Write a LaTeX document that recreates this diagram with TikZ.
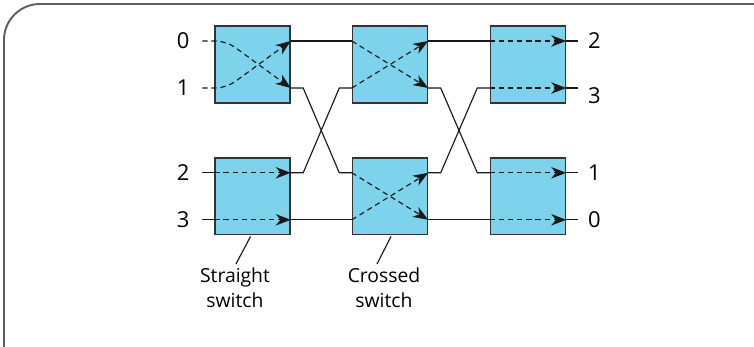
\documentclass[tikz,border=0pt]{standalone}
\usepackage{fontspec}
\setmainfont{Open Sans}
\definecolor{SwitchBlue}{HTML}{7DD3EB}
\definecolor{EdgeGray}{HTML}{333333}
\definecolor{FrameGray}{HTML}{5F5F5F}
\usetikzlibrary{positioning,calc,arrows.meta}

\begin{document}
\begin{tikzpicture}[x=0.02cm, y=-0.02cm,
  switch/.style={draw=EdgeGray, fill=SwitchBlue, line width=0.8pt,
    minimum width=1.5cm, minimum height=1.54cm, inner sep=0pt},
  wire/.style={line width=0.65pt, color=black!90},
  flow/.style={wire, dash pattern=on 3pt off 2.2pt,
    -{Stealth[length=8.5pt, width=6.5pt, inset=2.6pt]}},
  portlbl/.style={font=\fontsize{12.5}{12.5}\selectfont, inner sep=2pt},
  note/.style={font=\fontsize{11}{14.2}\selectfont, align=center, inner sep=2pt}]
  \useasboundingbox (0,0) rectangle (754,347);
  % frame
  \draw[FrameGray, line width=1.1pt, rounded corners=0.72cm] (4,347) -- (4,4) -- (754,4);
  % switches: up/lo row, columns 1..3, ports 0 (upper) and 1 (lower)
  \foreach \c/\x in {1/252.5,2/390,3/528}{
    \node[switch] (up\c) at (\x,64.5) {};
    \node[switch] (lo\c) at (\x,196.3) {};
    \foreach \r in {up,lo}{
      \coordinate (\r\c-w0) at ($(\r\c.west)+(0,-23.5)$);
      \coordinate (\r\c-w1) at ($(\r\c.west)+(0,23.5)$);
      \coordinate (\r\c-e0) at ($(\r\c.east)+(0,-23.5)$);
      \coordinate (\r\c-e1) at ($(\r\c.east)+(0,23.5)$);
    }
  }
  % inputs
  \coordinate (in0) at ($(up1-w0)+(-12,0)$);
  \coordinate (in1) at ($(up1-w1)+(-12,0)$);
  \coordinate (in2) at ($(lo1-w0)+(-12,0)$);
  \coordinate (in3) at ($(lo1-w1)+(-12,0)$);
  \foreach \i in {0,...,3}
    \node[portlbl, left=0.18cm of in\i] (lblin\i) {\i};
  \draw[wire] (in2) -- (lo1-w0);
  \draw[wire] (in3) -- (lo1-w1);
  % outputs
  \coordinate (out2) at ($(up3-e0)+(12,0)$);
  \coordinate (out3) at ($(up3-e1)+(12,0)$);
  \coordinate (out1) at ($(lo3-e0)+(12,0)$);
  \coordinate (out0) at ($(lo3-e1)+(12,0)$);
  \foreach \i in {0,1,2}
    \node[portlbl, right=0.12cm of out\i] (lblout\i) {\i};
  \node[portlbl, right=0.12cm of out3, yshift=-0.16cm] (lblout3) {3};
  \draw[wire] (up3-e0) -- (out2);
  \draw[wire] (up3-e1) -- (out3);
  \draw[wire] (lo3-e0) -- (out1);
  \draw[wire] (lo3-e1) -- (out0);
  % links between stages
  \draw[wire] (up1-e0) -- (up2-w0);
  \draw[wire] (up2-e0) -- (up3-w0);
  \draw[wire] (lo1-e1) -- (lo2-w1);
  \draw[wire] (lo2-e1) -- (lo3-w1);
  \foreach \a/\b in {1/2,2/3}{
    \draw[wire] (up\a-e1) -- ++(12.5,0) -- ($(lo\b-w0)+(-12.5,0)$) -- (lo\b-w0);
    \draw[wire] (lo\a-e0) -- ++(12.5,0) -- ($(up\b-w1)+(-12.5,0)$) -- (up\b-w1);
  }
  % paths through the switches
  \draw[flow, rounded corners=6pt] (in0) -- ($(up1-w0)+(12,0)$) -- (up1-e1);
  \draw[flow, rounded corners=6pt] (in1) -- ($(up1-w1)+(12,0)$) -- (up1-e0);
  \draw[flow] (lo1-w0) -- (lo1-e0);
  \draw[flow] (lo1-w1) -- (lo1-e1);
  \draw[flow] (up2-w0) -- (up2-e1);
  \draw[flow] (up2-w1) -- (up2-e0);
  \draw[flow] (lo2-w0) -- (lo2-e1);
  \draw[flow] (lo2-w1) -- (lo2-e0);
  \foreach \r in {up,lo}{
    \draw[flow] (\r3-w0) -- (\r3-e0);
    \draw[flow] (\r3-w1) -- (\r3-e1);
  }
  % callouts
  \node[note, anchor=north] (noteS) at (235,264) {Straight\\switch};
  \node[note, anchor=north] (noteC) at (384,264) {Crossed\\switch};
  \draw[wire] ($(lo1.south)+(-2,1)$) -- ($(noteS.north)+(1,0)$);
  \draw[wire] ($(lo2.south)+(1,1)$) -- ($(noteC.north)+(-7,0)$);
\end{tikzpicture}
\end{document}
